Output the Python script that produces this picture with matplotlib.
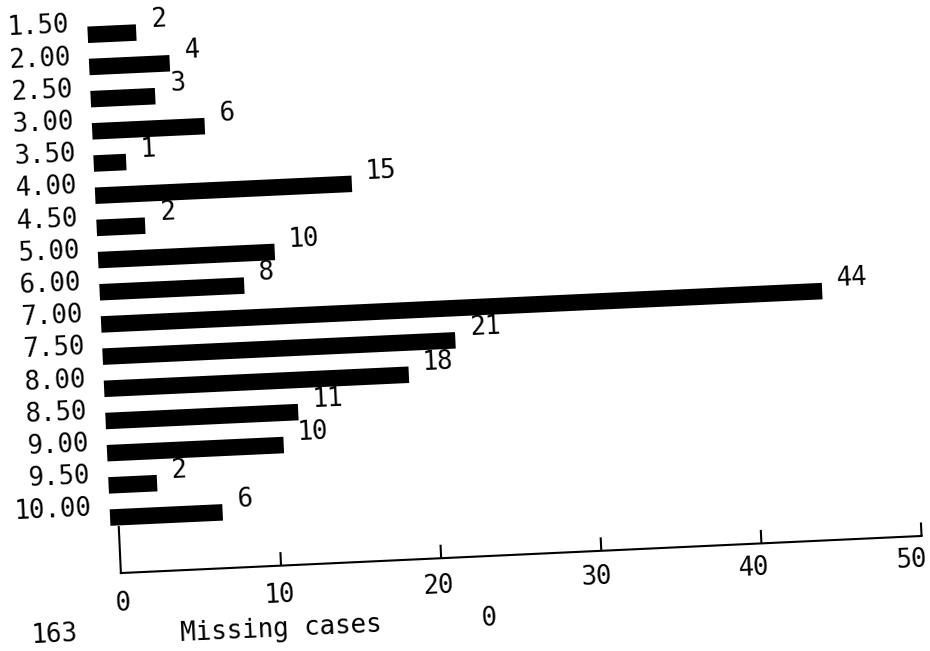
import matplotlib
matplotlib.use("Agg")
import matplotlib.pyplot as plt
from matplotlib.transforms import Affine2D, ScaledTranslation

# Frequency table
categories = ["1.50", "2.00", "2.50", "3.00", "3.50", "4.00", "4.50", "5.00",
              "6.00", "7.00", "7.50", "8.00", "8.50", "9.00", "9.50", "10.00"]
counts = [2, 4, 3, 6, 1, 15, 2, 10, 8, 44, 21, 18, 11, 10, 2, 6]
xticks = [10, 20, 30, 40, 50]
tick_values = [0, 10, 20, 30, 40, 50]
tick_labels = ["0", "10", "20", "30", "40", "50"]
missing_cases = 0
valid_cases = sum(counts)

DPI = 100
W, H = 930, 651
TILT = 2.65            # the printed page sits slightly askew
PIVOT = (121.7, 78.0)  # axis corner, pixels from bottom-left
ROW = 32.22            # pixels per category row
FONT = "DejaVu Sans Mono"
FS = 18.5

fig = plt.figure(figsize=(W / DPI, H / DPI), dpi=DPI)
fig.patch.set_facecolor("white")

x0_px = PIVOT[0] - 0.8
y_bottom = -1.735
y_top = 16
ax = fig.add_axes([x0_px / W, PIVOT[1] / H, 801.5 / W, (y_top - y_bottom) * ROW / H])
ax.set_xlim(0, 50)
ax.set_ylim(y_bottom, y_top)
ax.set_axis_off()

rot = Affine2D().rotate_deg_around(PIVOT[0], PIVOT[1], TILT)


def shifted(dx, dy):
    return ax.transData + ScaledTranslation(dx / DPI, dy / DPI, fig.dpi_scale_trans) + rot


def put(artist):
    artist.set_transform(artist.get_transform() + rot)
    artist.set_clip_on(False)
    return artist


def label(x, y, s, dx, dy, ha):
    ax.text(x, y, s, ha=ha, va="baseline", fontsize=FS, family=FONT,
            rotation=TILT, rotation_mode="anchor", transform=shifted(dx, dy))


n = len(categories)
rows = [n - 1 - i for i in range(n)]  # first category at the top

# bars drawn with a square plotter pen
bars = ax.hlines(rows, 0, counts, colors="black", linewidth=16.5 * 72 / DPI)
bars.set_capstyle("projecting")
put(bars)

# category labels and value labels
for r, cat, c in zip(rows, categories, counts):
    label(0, r, cat, -26, 3, "right")
    label(c, r, str(c), 23, 4.5, "left")

# value axis
axis_line, = ax.plot([0, 50], [y_bottom, y_bottom], color="black", lw=1.5)
put(axis_line)
stub, = ax.plot([0, 0], [y_bottom, y_bottom + 46 / ROW], color="black", lw=1.5)
put(stub)
ticks = ax.vlines(xticks, y_bottom, y_bottom + 13.5 / ROW, colors="black", lw=1.5)
put(ticks)
# the tick-label row drifts slightly left and upward along the axis
for v, lab in zip(tick_values, tick_labels):
    label(v, y_bottom, lab, -0.22 * v, -38 + 0.15 * v, "center")

# case summary
label(0, y_bottom, str(valid_cases), -69, -66, "center")
label(3.5, y_bottom, "Missing cases", 0, -71, "left")
label(22.8, y_bottom, str(missing_cases), 0, -70, "center")

fig.savefig("out.png", dpi=DPI, facecolor="white")
